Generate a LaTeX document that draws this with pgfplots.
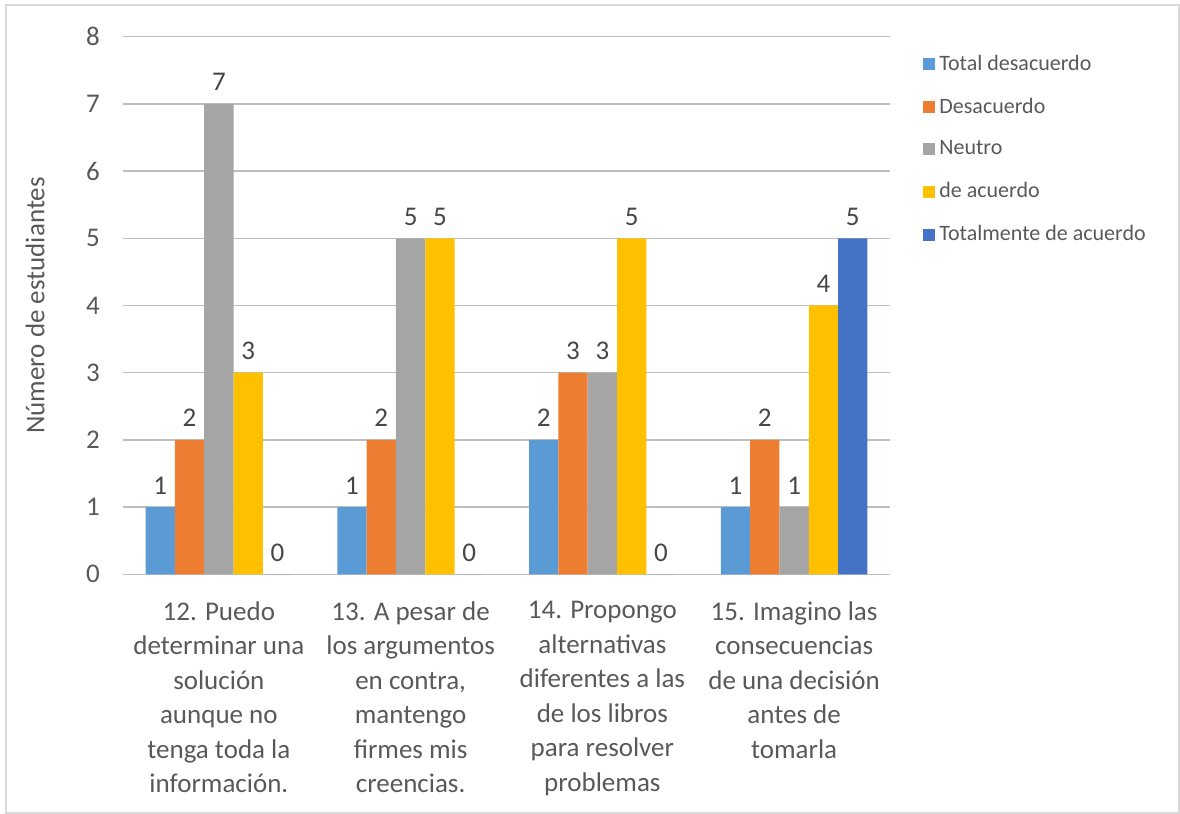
\documentclass[border=0pt]{standalone}
\usepackage{fontspec}
\setmainfont{Carlito}
\usepackage{pgfplots}
\pgfplotsset{compat=1.18}
\definecolor{cTD}{HTML}{5B9BD5}
\definecolor{cD}{HTML}{ED7D31}
\definecolor{cN}{HTML}{A5A5A5}
\definecolor{cA}{HTML}{FFC000}
\definecolor{cTA}{HTML}{4472C4}
\definecolor{txt}{HTML}{595959}
\definecolor{grid}{HTML}{D9D9D9}
\begin{document}
\begin{tikzpicture}
\useasboundingbox (0,0) rectangle (590pt,407pt);
\draw[grid,line width=0.8pt] (3pt,0.5pt) rectangle (589.5pt,404.5pt);
\begin{axis}[
  at={(61.5pt,119.85pt)}, anchor=south west,
  scale only axis, width=383.5pt, height=268.8pt,
  ybar=0pt, bar width=0.1528,
  xmin=-0.5, xmax=3.5, ymin=0, ymax=8,
  xtick={0,1,2,3},
  xticklabels={
    {12. Puedo\\determinar una\\solución\\aunque no\\tenga toda la\\información.},
    {13. A pesar de\\los argumentos\\en contra,\\mantengo\\firmes mis\\creencias.},
    {14. Propongo\\alternativas\\diferentes a las\\de los libros\\para resolver\\problemas},
    {15. Imagino las\\consecuencias\\de una decisión\\antes de\\tomarla}},
  xticklabel style={align=center, anchor=north, yshift=-10pt, text=txt, font=\fontsize{13.5pt}{17.25pt}\selectfont},
  ytick={0,...,8},
  yticklabel style={text=txt, font=\fontsize{13.5pt}{16pt}\selectfont, xshift=-8pt},
  /pgf/number format/assume math mode=true,
  ymajorgrids, xmajorgrids=false, grid style={grid, line width=0.75pt},
  axis line style={draw=none},
  major tick length=0pt,
  axis x line*=bottom, axis y line*=left,
  ylabel={Número de estudiantes},
  every axis y label/.style={at={(axis description cs:-0.1147,0.5)}, rotate=90, anchor=center, text=txt, font=\fontsize{13.5pt}{16pt}\selectfont},
  nodes near coords,
  every node near coord/.append style={text=txt!80!black, yshift=3pt, font=\fontsize{13.5pt}{16pt}\selectfont, /pgf/number format/assume math mode=true},
  legend style={at={(axis description cs:1.043,0.974)}, anchor=north west, draw=none, fill=none,
    font=\fontsize{11pt}{13pt}\selectfont, text=txt,
    row sep=8.3pt, cells={anchor=west}, inner sep=0pt},
  legend image code/.code={\fill[#1] (0pt,-3pt) rectangle (6pt,3pt);},
  legend cell align=left,
]
\addplot[fill=cTD, draw=none] coordinates {(0,1) (1,1) (2,2) (3,1)};
\addplot[fill=cD, draw=none] coordinates {(0,2) (1,2) (2,3) (3,2)};
\addplot[fill=cN, draw=none] coordinates {(0,7) (1,5) (2,3) (3,1)};
\addplot[fill=cA, draw=none] coordinates {(0,3) (1,5) (2,5) (3,4)};
\addplot[fill=cTA, draw=none] coordinates {(0,0) (1,0) (2,0) (3,5)};
\legend{Total desacuerdo, Desacuerdo, Neutro, de acuerdo, Totalmente de acuerdo}
\end{axis}
\end{tikzpicture}
\end{document}
